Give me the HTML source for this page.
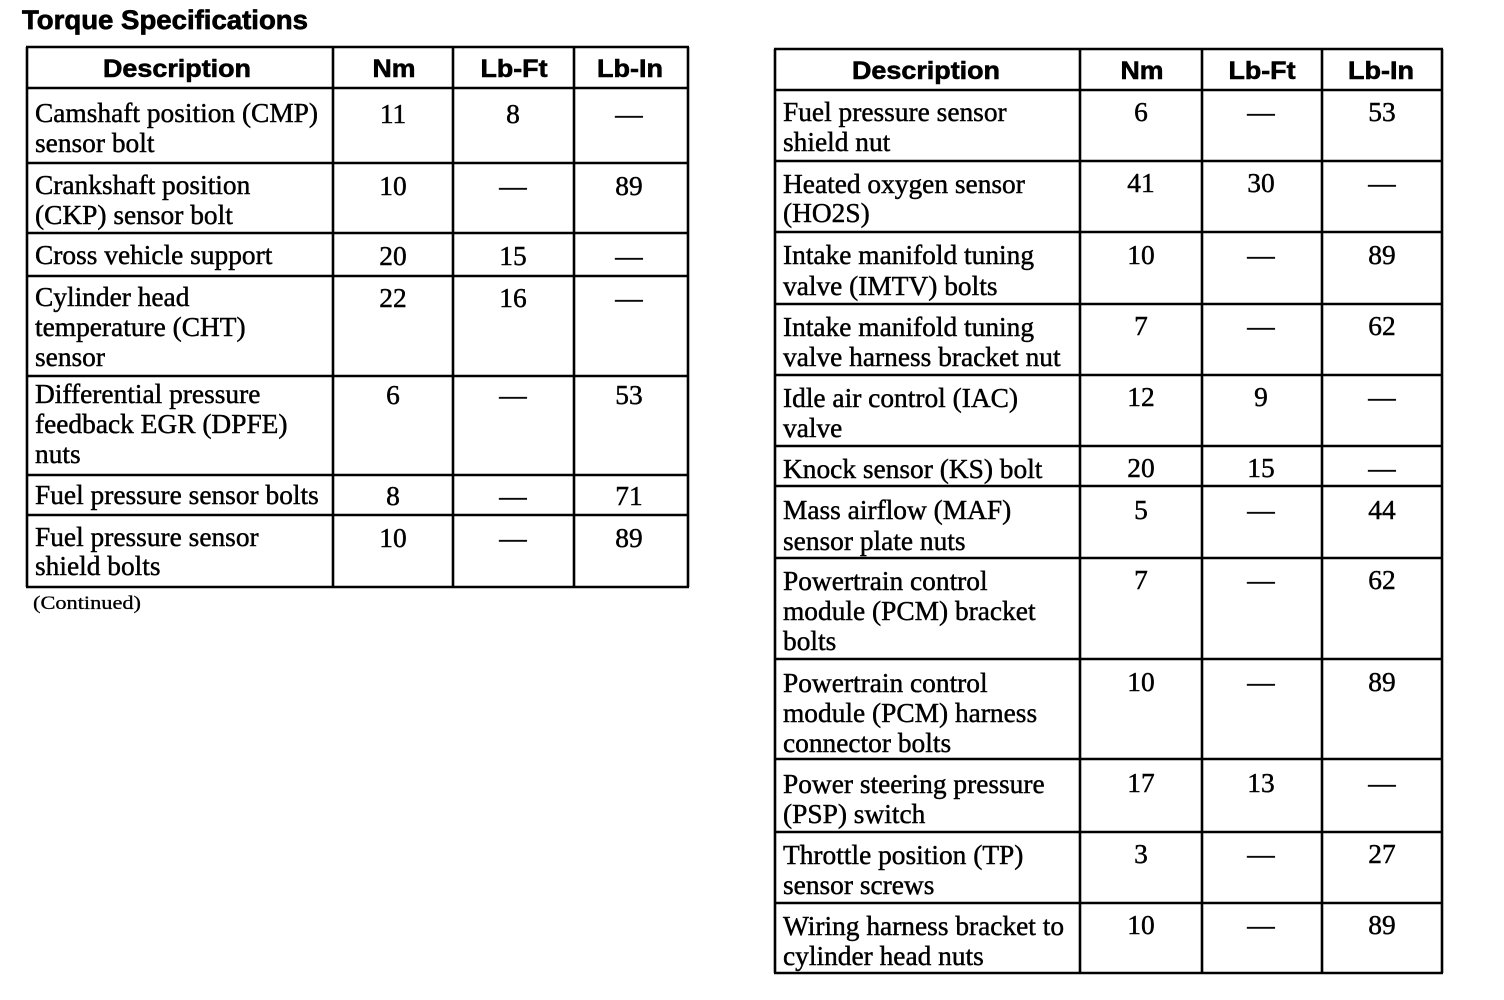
<!DOCTYPE html>
<html>
<head>
<meta charset="utf-8">
<style>
  html, body { margin: 0; padding: 0; background: #fff; }
  svg { display: block; }
  .d { font-family: "Liberation Serif", "Times New Roman", serif; font-size: 27.4px; fill: #000; stroke: #000; stroke-width: 0.45px; }
  .n { font-family: "Liberation Serif", "Times New Roman", serif; font-size: 27.4px; fill: #000; text-anchor: middle; stroke: #000; stroke-width: 0.45px; }
  .h { font-family: "Liberation Sans", Arial, sans-serif; font-size: 25px; font-weight: bold; fill: #000; text-anchor: middle; stroke: #000; stroke-width: 0.6px; }
  .t { font-family: "Liberation Sans", Arial, sans-serif; font-size: 26.5px; font-weight: bold; fill: #000; stroke: #000; stroke-width: 0.7px; }
  .c { font-family: "Liberation Serif", "Times New Roman", serif; font-size: 19px; fill: #000; stroke: #000; stroke-width: 0.3px; }
  line { stroke: #000; stroke-width: 2.6; }
</style>
</head>
<body>
<svg width="1504" height="1000" viewBox="0 0 1504 1000" xmlns="http://www.w3.org/2000/svg">
  <rect x="0" y="0" width="1504" height="1000" fill="#fff"/>

  <!-- Title -->
  <text class="t" x="22" y="29" textLength="286" lengthAdjust="spacingAndGlyphs">Torque Specifications</text>

  <!-- ============ LEFT TABLE ============ -->
  <line x1="27" y1="47" x2="27" y2="587"/>
  <line x1="333" y1="47" x2="333" y2="587"/>
  <line x1="453" y1="47" x2="453" y2="587"/>
  <line x1="574" y1="47" x2="574" y2="587"/>
  <line x1="688" y1="47" x2="688" y2="587"/>
  <line x1="26" y1="47" x2="689" y2="47"/>
  <line x1="26" y1="88" x2="689" y2="88"/>
  <line x1="26" y1="163" x2="689" y2="163"/>
  <line x1="26" y1="233" x2="689" y2="233"/>
  <line x1="26" y1="276" x2="689" y2="276"/>
  <line x1="26" y1="376" x2="689" y2="376"/>
  <line x1="26" y1="475" x2="689" y2="475"/>
  <line x1="26" y1="515" x2="689" y2="515"/>
  <line x1="26" y1="587" x2="689" y2="587"/>

  <text class="h" x="177" y="77" textLength="148" lengthAdjust="spacingAndGlyphs">Description</text>
  <text class="h" x="394" y="77" textLength="43" lengthAdjust="spacingAndGlyphs">Nm</text>
  <text class="h" x="514" y="77" textLength="67" lengthAdjust="spacingAndGlyphs">Lb-Ft</text>
  <text class="h" x="630" y="77" textLength="66" lengthAdjust="spacingAndGlyphs">Lb-In</text>

  <text class="d" x="35" y="122">Camshaft position (CMP)</text>
  <text class="d" x="35" y="152">sensor bolt</text>
  <text class="n" x="393" y="123">11</text>
  <text class="n" x="513" y="123">8</text>
  <text class="n" x="629" y="123">—</text>

  <text class="d" x="35" y="194">Crankshaft position</text>
  <text class="d" x="35" y="224">(CKP) sensor bolt</text>
  <text class="n" x="393" y="195">10</text>
  <text class="n" x="513" y="195">—</text>
  <text class="n" x="629" y="195">89</text>

  <text class="d" x="35" y="264">Cross vehicle support</text>
  <text class="n" x="393" y="265">20</text>
  <text class="n" x="513" y="265">15</text>
  <text class="n" x="629" y="265">—</text>

  <text class="d" x="35" y="306">Cylinder head</text>
  <text class="d" x="35" y="336">temperature (CHT)</text>
  <text class="d" x="35" y="366">sensor</text>
  <text class="n" x="393" y="307">22</text>
  <text class="n" x="513" y="307">16</text>
  <text class="n" x="629" y="307">—</text>

  <text class="d" x="35" y="403">Differential pressure</text>
  <text class="d" x="35" y="433">feedback EGR (DPFE)</text>
  <text class="d" x="35" y="463">nuts</text>
  <text class="n" x="393" y="404">6</text>
  <text class="n" x="513" y="404">—</text>
  <text class="n" x="629" y="404">53</text>

  <text class="d" x="35" y="504">Fuel pressure sensor bolts</text>
  <text class="n" x="393" y="505">8</text>
  <text class="n" x="513" y="505">—</text>
  <text class="n" x="629" y="505">71</text>

  <text class="d" x="35" y="546">Fuel pressure sensor</text>
  <text class="d" x="35" y="575">shield bolts</text>
  <text class="n" x="393" y="547">10</text>
  <text class="n" x="513" y="547">—</text>
  <text class="n" x="629" y="547">89</text>

  <text class="c" x="33" y="609" textLength="108" lengthAdjust="spacingAndGlyphs">(Continued)</text>

  <!-- ============ RIGHT TABLE ============ -->
  <line x1="775" y1="49" x2="775" y2="973"/>
  <line x1="1080" y1="49" x2="1080" y2="973"/>
  <line x1="1202" y1="49" x2="1202" y2="973"/>
  <line x1="1322" y1="49" x2="1322" y2="973"/>
  <line x1="1442" y1="49" x2="1442" y2="973"/>

  <line x1="774" y1="49" x2="1443" y2="49"/>
  <line x1="774" y1="90" x2="1443" y2="90"/>
  <line x1="774" y1="161" x2="1443" y2="161"/>
  <line x1="774" y1="232" x2="1443" y2="232"/>
  <line x1="774" y1="304" x2="1443" y2="304"/>
  <line x1="774" y1="375" x2="1443" y2="375"/>
  <line x1="774" y1="446" x2="1443" y2="446"/>
  <line x1="774" y1="486" x2="1443" y2="486"/>
  <line x1="774" y1="558" x2="1443" y2="558"/>
  <line x1="774" y1="659" x2="1443" y2="659"/>
  <line x1="774" y1="759" x2="1443" y2="759"/>
  <line x1="774" y1="832" x2="1443" y2="832"/>
  <line x1="774" y1="903" x2="1443" y2="903"/>
  <line x1="774" y1="973" x2="1443" y2="973"/>

  <text class="h" x="926" y="79" textLength="148" lengthAdjust="spacingAndGlyphs">Description</text>
  <text class="h" x="1142" y="79" textLength="43" lengthAdjust="spacingAndGlyphs">Nm</text>
  <text class="h" x="1262" y="79" textLength="67" lengthAdjust="spacingAndGlyphs">Lb-Ft</text>
  <text class="h" x="1381" y="79" textLength="66" lengthAdjust="spacingAndGlyphs">Lb-In</text>

  <text class="d" x="783" y="121">Fuel pressure sensor</text>
  <text class="d" x="783" y="151">shield nut</text>
  <text class="n" x="1141" y="121">6</text>
  <text class="n" x="1261" y="121">—</text>
  <text class="n" x="1382" y="121">53</text>

  <text class="d" x="783" y="193">Heated oxygen sensor</text>
  <text class="d" x="783" y="222">(HO2S)</text>
  <text class="n" x="1141" y="192">41</text>
  <text class="n" x="1261" y="192">30</text>
  <text class="n" x="1382" y="192">—</text>

  <text class="d" x="783" y="264">Intake manifold tuning</text>
  <text class="d" x="783" y="295">valve (IMTV) bolts</text>
  <text class="n" x="1141" y="264">10</text>
  <text class="n" x="1261" y="264">—</text>
  <text class="n" x="1382" y="264">89</text>

  <text class="d" x="783" y="336">Intake manifold tuning</text>
  <text class="d" x="783" y="366">valve harness bracket nut</text>
  <text class="n" x="1141" y="335">7</text>
  <text class="n" x="1261" y="335">—</text>
  <text class="n" x="1382" y="335">62</text>

  <text class="d" x="783" y="407">Idle air control (IAC)</text>
  <text class="d" x="783" y="437">valve</text>
  <text class="n" x="1141" y="406">12</text>
  <text class="n" x="1261" y="406">9</text>
  <text class="n" x="1382" y="406">—</text>

  <text class="d" x="783" y="478">Knock sensor (KS) bolt</text>
  <text class="n" x="1141" y="477">20</text>
  <text class="n" x="1261" y="477">15</text>
  <text class="n" x="1382" y="477">—</text>

  <text class="d" x="783" y="519">Mass airflow (MAF)</text>
  <text class="d" x="783" y="550">sensor plate nuts</text>
  <text class="n" x="1141" y="519">5</text>
  <text class="n" x="1261" y="519">—</text>
  <text class="n" x="1382" y="519">44</text>

  <text class="d" x="783" y="590">Powertrain control</text>
  <text class="d" x="783" y="620">module (PCM) bracket</text>
  <text class="d" x="783" y="650">bolts</text>
  <text class="n" x="1141" y="589">7</text>
  <text class="n" x="1261" y="589">—</text>
  <text class="n" x="1382" y="589">62</text>

  <text class="d" x="783" y="692">Powertrain control</text>
  <text class="d" x="783" y="722">module (PCM) harness</text>
  <text class="d" x="783" y="752">connector bolts</text>
  <text class="n" x="1141" y="691">10</text>
  <text class="n" x="1261" y="691">—</text>
  <text class="n" x="1382" y="691">89</text>

  <text class="d" x="783" y="793">Power steering pressure</text>
  <text class="d" x="783" y="823">(PSP) switch</text>
  <text class="n" x="1141" y="792">17</text>
  <text class="n" x="1261" y="792">13</text>
  <text class="n" x="1382" y="792">—</text>

  <text class="d" x="783" y="864">Throttle position (TP)</text>
  <text class="d" x="783" y="894">sensor screws</text>
  <text class="n" x="1141" y="863">3</text>
  <text class="n" x="1261" y="863">—</text>
  <text class="n" x="1382" y="863">27</text>

  <text class="d" x="783" y="935">Wiring harness bracket to</text>
  <text class="d" x="783" y="965">cylinder head nuts</text>
  <text class="n" x="1141" y="934">10</text>
  <text class="n" x="1261" y="934">—</text>
  <text class="n" x="1382" y="934">89</text>
</svg>
</body>
</html>
